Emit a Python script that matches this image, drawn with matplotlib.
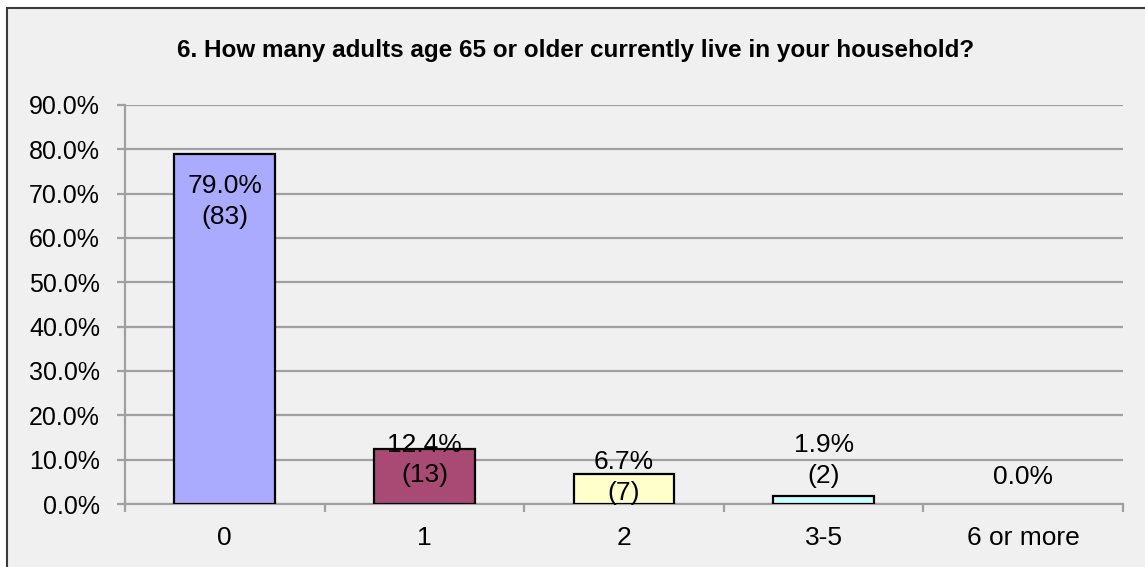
import matplotlib
matplotlib.use("Agg")
import matplotlib.pyplot as plt
from matplotlib.patches import Rectangle
from matplotlib.ticker import FixedLocator, FuncFormatter

categories = ["0", "1", "2", "3-5", "6 or more"]
percents = [79.0, 12.4, 6.7, 1.9, 0.0]
counts = [83, 13, 7, 2, 0]
bar_colors = ["#aaaaff", "#a94a74", "#ffffcc", "#ccffff", "#ccccff"]
title = "6. How many adults age 65 or older currently live in your household?"

# vertical offset (pixels) of each label block centre from its bar top
label_offsets = [-48, -11, -3, 35, 27]

W, H, DPI = 1145, 567, 100
plt.rcParams["font.family"] = ["Liberation Sans", "DejaVu Sans"]
fig = plt.figure(figsize=(W / DPI, H / DPI), dpi=DPI, facecolor="white")

# chart area panel with border
fig.patches.append(Rectangle((7 / W, -0.05), 1.2, (H - 8) / H + 0.05,
                             transform=fig.transFigure, facecolor="#f0f0f0",
                             edgecolor="#3a3a3a", linewidth=1.5, zorder=-10))

ax = fig.add_axes([125 / W, (H - 504) / H, (1123 - 125) / W, (504 - 105) / H])
ax.set_facecolor("none")
ax.set_zorder(1)

x = list(range(len(categories)))
edge_widths = [1.6 if p > 0 else 0 for p in percents]
ax.bar(x, percents, width=0.505, color=bar_colors, edgecolor="black",
       linewidth=edge_widths, zorder=3)

ax.set_xlim(-0.5, len(categories) - 0.5)
ax.set_ylim(0, 90)
ax.yaxis.set_major_locator(FixedLocator([i * 10 for i in range(10)]))
ax.yaxis.set_major_formatter(FuncFormatter(lambda v, p: f"{v:.1f}%"))
ax.grid(axis="y", color="#a0a0a0", linewidth=1.6, zorder=1)
ax.set_axisbelow(True)

ax.set_xticks(x)
ax.set_xticklabels(categories)
ax.set_xticks([i - 0.5 for i in range(len(categories) + 1)], minor=True)
ax.tick_params(axis="x", which="major", length=0, pad=16, labelsize=19)
ax.tick_params(axis="x", which="minor", length=6, width=1.6, color="#a0a0a0")
ax.tick_params(axis="y", length=6, width=1.6, color="#a0a0a0", pad=12,
               labelsize=18)

for side in ("top", "right"):
    ax.spines[side].set_visible(False)
for side in ("left", "bottom"):
    ax.spines[side].set_color("#a0a0a0")
    ax.spines[side].set_linewidth(1.6)

for xi, p, c, off in zip(x, percents, counts, label_offsets):
    txt = f"{p:.1f}%" if c == 0 else f"{p:.1f}%\n({c})"
    ax.annotate(txt, (xi, p), xytext=(0, off * 72 / DPI),
                textcoords="offset points", ha="center", va="center",
                fontsize=19, linespacing=1.35, zorder=5)

fig.text(576 / W, 1 - 51 / H, title, ha="center", va="center",
         fontsize=17.5, fontweight="bold")

fig.savefig("out.png", dpi=DPI, facecolor="white")
